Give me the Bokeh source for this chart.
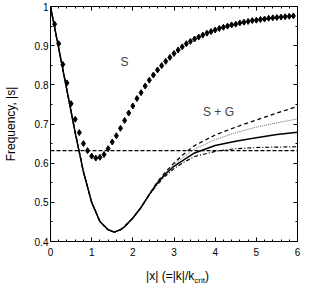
from bokeh.plotting import figure
from bokeh.models import Range1d, LinearAxis, Label, FixedTicker, CustomJSTickFormatter, Div
from bokeh.layouts import column
from bokeh.embed import file_html
from bokeh.resources import INLINE

# ---- data ----
# S (diamond markers)
s_x = [0.1, 0.2, 0.3, 0.4, 0.5, 0.6, 0.7, 0.8, 0.9, 1.0,
       1.1, 1.2, 1.3, 1.4, 1.5, 1.6, 1.7, 1.8, 1.9, 2.0,
       2.1, 2.2, 2.3, 2.4, 2.5, 2.6, 2.7, 2.8, 2.9, 3.0,
       3.1, 3.2, 3.3, 3.4, 3.5, 3.6, 3.7, 3.8, 3.9, 4.0,
       4.1, 4.2, 4.3, 4.4, 4.5, 4.6, 4.7, 4.8, 4.9, 5.0,
       5.1, 5.2, 5.3, 5.4, 5.5, 5.6, 5.7, 5.8, 5.9]
s_y = [0.955, 0.905, 0.852, 0.805, 0.752, 0.712, 0.678, 0.650, 0.632, 0.618,
       0.613, 0.615, 0.622, 0.637, 0.654, 0.670, 0.689, 0.709, 0.728, 0.746,
       0.765, 0.780, 0.797, 0.812, 0.825, 0.838, 0.849, 0.860, 0.870, 0.880,
       0.889, 0.897, 0.905, 0.911, 0.917, 0.922, 0.927, 0.932, 0.936, 0.940,
       0.944, 0.947, 0.950, 0.953, 0.955, 0.958, 0.960, 0.962, 0.964, 0.965,
       0.967, 0.968, 0.970, 0.971, 0.972, 0.973, 0.974, 0.975, 0.976]

# common part of the S + G curves
common_x = [0.0, 0.2, 0.4, 0.6, 0.8, 1.0, 1.2, 1.4, 1.55, 1.7, 1.8, 2.0, 2.2, 2.4]
common_y = [1.0, 0.893, 0.786, 0.678, 0.578, 0.500, 0.451, 0.430, 0.424, 0.430, 0.438, 0.460, 0.487, 0.520]

# branches
branch_x = [2.6, 2.8, 3.0, 3.2, 3.5, 4.0, 4.5, 5.0, 5.5, 6.0]
solid_y = [0.550, 0.573, 0.592, 0.606, 0.626, 0.645, 0.656, 0.665, 0.673, 0.679]
dashed_y = [0.553, 0.578, 0.600, 0.620, 0.645, 0.672, 0.692, 0.710, 0.728, 0.745]
dotted_y = [0.552, 0.576, 0.596, 0.613, 0.636, 0.660, 0.678, 0.692, 0.703, 0.713]
dashdot_y = [0.546, 0.568, 0.586, 0.600, 0.617, 0.630, 0.637, 0.640, 0.641, 0.642]

# horizontal reference
hline_x = [0.0, 6.0]
hline_y = [0.632, 0.632]

x_ticks = [0, 1, 2, 3, 4, 5, 6]
y_ticks = [0.4, 0.5, 0.6, 0.7, 0.8, 0.9, 1.0]
y_tick_labels = {0.4: "0.4", 0.5: "0.5", 0.6: "0.6", 0.7: "0.7", 0.8: "0.8", 0.9: "0.9", 1.0: "1"}

FONT = "Liberation Sans"

p = figure(frame_width=247, frame_height=235, output_backend="svg", toolbar_location=None,
           x_range=Range1d(0, 6), y_range=Range1d(0.4, 1.0),
           min_border_left=49, min_border_right=4, min_border_top=6, min_border_bottom=20)
p.background_fill_color = "white"
p.border_fill_color = "white"
p.outline_line_color = "black"
p.outline_line_width = 1
p.grid.visible = False


def style_axis(ax):
    ax.major_tick_in = 4
    ax.major_tick_out = 0
    ax.minor_tick_in = 2
    ax.minor_tick_out = 0
    ax.axis_line_color = "black"
    ax.major_tick_line_color = "black"
    ax.minor_tick_line_color = "black"
    ax.major_label_text_font = FONT
    ax.major_label_text_font_size = "10px"
    ax.major_label_text_color = "black"
    ax.axis_label_text_font = FONT
    ax.axis_label_text_font_style = "normal"
    ax.axis_label_text_font_size = "12px"
    ax.axis_label_text_color = "black"


xt = FixedTicker(ticks=x_ticks, minor_ticks=[i * 0.2 for i in range(31)])
yt = FixedTicker(ticks=y_ticks, minor_ticks=[0.4 + i * 0.05 for i in range(13)])

p.xaxis.ticker = xt
p.yaxis.ticker = yt
p.yaxis.major_label_overrides = y_tick_labels
style_axis(p.xaxis[0])
style_axis(p.yaxis[0])
p.yaxis.axis_label = "Frequency, |s|"
p.xaxis.major_label_standoff = 6
p.yaxis.major_label_standoff = 2
p.yaxis.axis_label_standoff = 14

blank = CustomJSTickFormatter(code="return ''")
top = LinearAxis(ticker=xt, formatter=blank, major_label_standoff=0)
right = LinearAxis(ticker=yt, formatter=blank, major_label_standoff=0)
style_axis(top)
style_axis(right)
p.add_layout(top, "above")
p.add_layout(right, "right")

# horizontal dashed
p.line(hline_x, hline_y, line_color="black", line_width=1.3, line_dash="4 2")

# curves
full_x = common_x + branch_x
p.line(full_x, common_y + dashed_y, line_color="black", line_width=1.3, line_dash="4 3")
p.line(full_x, common_y + dotted_y, line_color="#666666", line_width=1.0, line_dash="1 1")
p.line(full_x, common_y + dashdot_y, line_color="black", line_width=1.2, line_dash="4 2 1 2")
p.line(full_x, common_y + solid_y, line_color="black", line_width=1.5)

# S markers
p.scatter(s_x, s_y, marker="diamond", size=6, fill_color="black", line_color="black")

# annotations
p.add_layout(Label(x=1.8, y=0.859, text="S", text_font=FONT, text_font_size="12px",
                   text_align="center", text_baseline="middle"))
p.add_layout(Label(x=4.08, y=0.73, text="S + G", text_font=FONT, text_font_size="12px",
                   text_align="center", text_baseline="middle"))

xlabel = Div(
    text=("<div style=\"position:absolute;left:49px;top:2px;width:247px;text-align:center;"
          "font-family:'Liberation Sans';font-size:12px;line-height:16px;color:black;white-space:nowrap;\">"
          "|x| (=|k|/k<sub style=\"font-size:8px;\">crit</sub>)</div>"),
    width=300, height=22)

layout = column(p, xlabel, spacing=0)

open("out.html", "w").write(file_html(layout, INLINE))
